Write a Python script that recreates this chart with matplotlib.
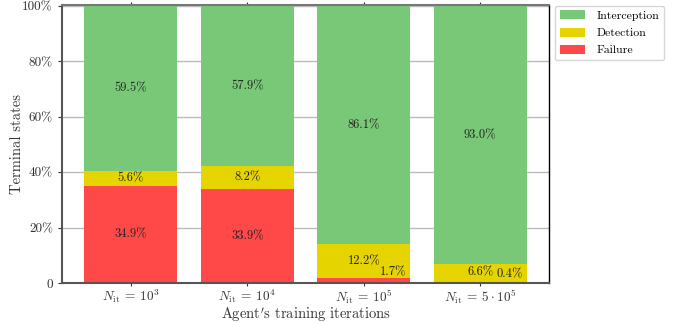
import numpy as np
import matplotlib
matplotlib.use("Agg")
import matplotlib.pyplot as plt

plt.rcParams["font.family"] = "serif"
plt.rcParams["font.serif"] = ["cmr10"]
plt.rcParams["mathtext.fontset"] = "cm"
plt.rcParams["axes.unicode_minus"] = False
plt.rcParams["axes.formatter.use_mathtext"] = True

# terminal state shares (%) per training budget
iterations = [r"$N_{\rm it}\:=\:10^3$", r"$N_{\rm it}\:=\:10^4$",
              r"$N_{\rm it}\:=\:10^5$", r"$N_{\rm it}\:=\:5 \cdot 10^5$"]
failure = [34.9, 33.9, 1.7, 0.4]
detection = [5.6, 8.2, 12.2, 6.6]
interception = [59.5, 57.9, 86.1, 93.0]

c_fail = "#ff4848"
c_det = "#e6d400"
c_int = "#78c878"

fig = plt.figure(figsize=(6.76, 3.24), dpi=100)
ax = fig.add_axes([0.0917, 0.1265, 0.7205, 0.8595])

x = np.arange(len(iterations))
fail = np.array(failure)
det = np.array(detection)
inter = np.array(interception)

b1 = ax.bar(x, fail, 0.8, color=c_fail, label="Failure", zorder=2)
b2 = ax.bar(x, det, 0.8, bottom=fail, color=c_det, label="Detection", zorder=2)
b3 = ax.bar(x, inter, 0.8, bottom=fail + det, color=c_int, label="Interception", zorder=2)

fs = 9
tc = "#222222"
for i in range(len(x)):
    ax.text(x[i], fail[i] + det[i] + inter[i] / 2, f"{inter[i]:.1f}%",
            ha="center", va="center", fontsize=fs, color=tc, zorder=3)
    ax.text(x[i], fail[i] + det[i] / 2, f"{det[i]:.1f}%",
            ha="center", va="center", fontsize=fs, color=tc, zorder=3)
    if fail[i] > 5:
        ax.text(x[i], fail[i] / 2, f"{fail[i]:.1f}%",
                ha="center", va="center", fontsize=fs, color=tc, zorder=3)
    else:
        # thin failure slice: label sits to the right, above the slice
        ax.text(x[i] + 0.25, fail[i] / 2 + 3, f"{fail[i]:.1f}%",
                ha="center", va="center", fontsize=fs, color=tc, zorder=3)

ax.set_ylim(0, 100.5)
ax.set_xlim(-0.59, 3.59)
ax.set_yticks([0, 20, 40, 60, 80, 100])
ax.set_yticklabels(["0", "20%", "40%", "60%", "80%", "100%"])
ax.set_xticks(x)
ax.set_xticklabels(iterations)
ax.tick_params(axis="y", labelsize=9.5, colors="#333333", length=3)
ax.tick_params(axis="x", labelsize=9.5, colors="#333333", top=True,
               direction="inout", length=4, pad=1.5)
ax.yaxis.grid(True, color="#bbbbbb", linewidth=1.0, zorder=0)
ax.set_axisbelow(True)

ax.set_ylabel("Terminal states", fontsize=10.5, color="#333333", labelpad=-1)
ax.set_xlabel(r"Agent$'$s training iterations", fontsize=10.5, color="#333333", labelpad=-1)

for side in ["left", "bottom"]:
    ax.spines[side].set_color("#555555")
    ax.spines[side].set_linewidth(1.5)
ax.spines["top"].set_color("#777777")
ax.spines["top"].set_linewidth(1.5)
ax.spines["right"].set_color("black")
ax.spines["right"].set_linewidth(1.0)

ax.legend(handles=[b3, b2, b1], loc="upper left", bbox_to_anchor=(1.01, 1.0),
          fontsize=8.5, frameon=True, edgecolor="#cccccc", fancybox=True,
          handlelength=2.1, handleheight=0.8, handletextpad=1.0,
          borderaxespad=0.1, labelspacing=0.55)

fig.savefig("out.png", dpi=100)
